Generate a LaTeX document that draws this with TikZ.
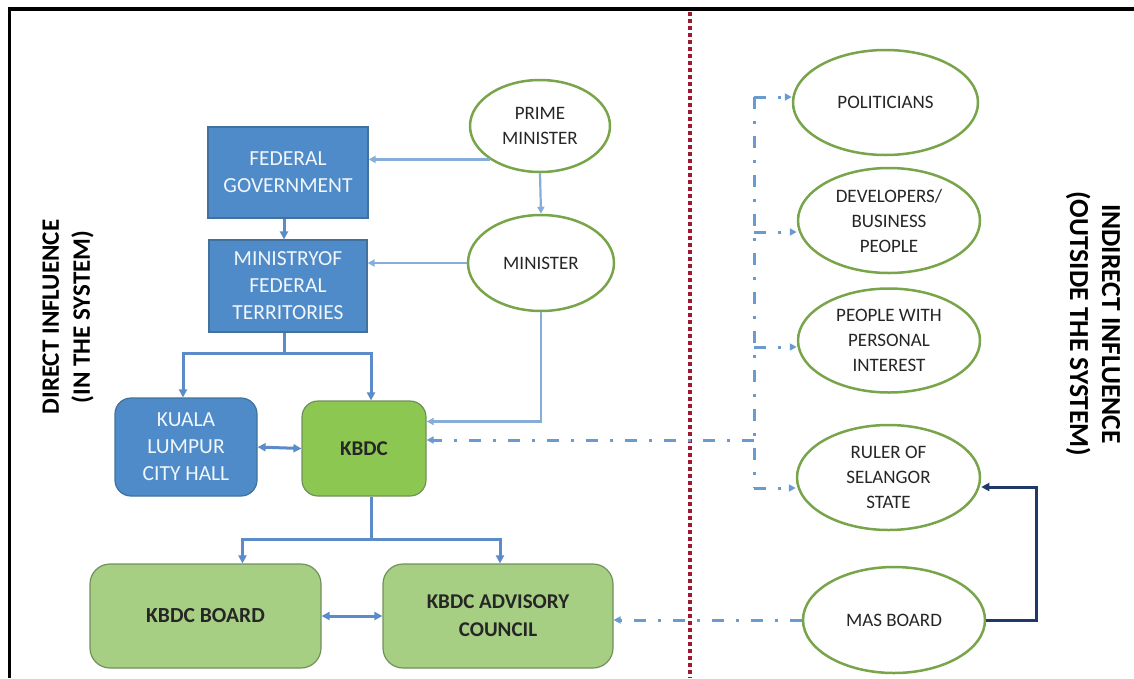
\documentclass[tikz,border=0pt]{standalone}
\usepackage{fontspec}
\setmainfont{Carlito}
\usetikzlibrary{positioning}
\usetikzlibrary{shapes.geometric}
\usetikzlibrary{arrows.meta}
\definecolor{govBlue}{HTML}{4F8BC9}
\definecolor{govEdge}{HTML}{41719C}
\definecolor{kbdcGreen}{HTML}{8CC751}
\definecolor{boardGreen}{HTML}{A6CF84}
\definecolor{greenEdge}{HTML}{71905A}
\definecolor{ringGreen}{HTML}{78A44A}
\definecolor{linkBlue}{HTML}{5B8BC8}
\definecolor{linkLight}{HTML}{86ACDA}
\definecolor{dashBlue}{HTML}{6A9AD0}
\definecolor{masNavy}{HTML}{1F3A68}
\definecolor{dividerRed}{HTML}{A01830}
\tikzset{
  font={\fontsize{21.5}{27}\selectfont}
}
\def\textColor{black!85}
\def\tipSize{8pt}
\tikzstyle{govbox}=[rectangle,draw=govEdge,fill=govBlue,line width=1.2pt,text=white!92!govBlue,align=center,inner sep=0pt]
\tikzstyle{kbdcbox}=[rectangle,rounded corners=16pt,draw=greenEdge,fill=kbdcGreen,line width=1.2pt,text=\textColor,align=center,inner sep=0pt,font={\bfseries\fontsize{21}{27}\selectfont}]
\tikzstyle{boardbox}=[kbdcbox,rounded corners=20pt,fill=boardGreen,font={\bfseries\fontsize{21.5}{28}\selectfont}]
\tikzstyle{person}=[ellipse,draw=ringGreen,fill=white,line width=2.5pt,text=\textColor,align=center,inner sep=0pt,font={\fontsize{19}{25}\selectfont}]
\tikzstyle{connection}=[-{Triangle[length=\tipSize,width=\tipSize]},line width=3pt,draw=linkBlue]
\tikzstyle{connectionThin}=[-{Triangle[length=7pt,width=7pt]},line width=2.2pt,draw=linkLight]
\tikzstyle{influence}=[-{Triangle[length=7pt,width=7pt]},line width=3pt,draw=dashBlue,dash pattern=on 12pt off 12pt on 3pt off 12pt]
\tikzstyle{masLink}=[-{Triangle[length=\tipSize,width=\tipSize]},line width=3pt,draw=masNavy]
\tikzstyle{divider}=[line width=4pt,draw=dividerRed,dash pattern=on 4pt off 3pt]
\tikzstyle{frame}=[line width=3.5pt,draw=black]
\tikzstyle{sidelabel}=[align=center,text=black,font={\bfseries\fontsize{25}{31}\selectfont}]

\begin{document}
\begin{tikzpicture}[x=1pt,y=-1pt]
    \useasboundingbox (0,0) rectangle (1134,678);
    \draw[frame] (9.5,678) -- (9.5,9) -- (1134,9);

    % dividing line between the two sides
    \coordinate (divtop) at (690,12);
    \coordinate (divbot) at (690,678);
    \draw[divider] (divtop) -- (divbot);

    % inside the system
    \node[govbox,minimum width=160pt,minimum height=91pt] (fedgov) at (288,172.5) {FEDERAL\\GOVERNMENT};
    \node[govbox,minimum width=158pt,minimum height=92pt] (ministry) at (288,286) {MINISTRYOF\\FEDERAL\\TERRITORIES};
    \node[govbox,rounded corners=16pt,minimum width=142pt,minimum height=98pt] (cityhall) at (186,447) {KUALA\\LUMPUR\\CITY HALL};
    \node[kbdcbox,minimum width=124pt,minimum height=95pt] (kbdc) at (364,448.5) {KBDC};
    \node[boardbox,minimum width=231pt,minimum height=104pt] (board) at (205.5,616) {KBDC BOARD};
    \node[boardbox,minimum width=230pt,minimum height=104pt,font={\bfseries\fontsize{21}{28}\selectfont}] (advisory) at (498,616) {KBDC ADVISORY\\COUNCIL};
    \node[person,minimum width=140pt,minimum height=92pt] (pm) at (540,126) {PRIME\\MINISTER};
    \node[person,minimum width=146pt,minimum height=96pt] (minister) at (541,263) {MINISTER};

    % outside the system
    \node[person,minimum width=185pt,minimum height=105pt] (politicians) at (885.5,102.5) {POLITICIANS};
    \node[person,minimum width=182pt,minimum height=105pt] (developers) at (889,220.5) {DEVELOPERS/\\BUSINESS\\PEOPLE};
    \node[person,minimum width=182pt,minimum height=104pt] (interest) at (889,340.5) {PEOPLE WITH\\PERSONAL\\INTEREST};
    \node[person,minimum width=183pt,minimum height=105pt] (ruler) at (888.5,477.5) {RULER OF\\SELANGOR\\STATE};
    \node[person,minimum width=182pt,minimum height=106pt] (mas) at (894,620) {MAS BOARD};

    \node[sidelabel,rotate=90] (direct) at (68,317) {DIRECT INFLUENCE\\(IN THE SYSTEM)};
    \node[sidelabel,rotate=-90,font={\bfseries\fontsize{27.5}{32}\selectfont}] (indirect) at (1093,324) {INDIRECT INFLUENCE\\(OUTSIDE THE SYSTEM)};

    % lines of direct influence
    \draw[connection] ([xshift=-4pt]fedgov.south) -- ([xshift=-4pt]ministry.north);
    \draw[connectionThin] (pm.south west) -- (pm.south west -| fedgov.east);
    \draw[connectionThin] (pm.south) -- (minister.north);
    \draw[connectionThin] (minister.west) -- (minister.west -| ministry.east);
    \draw[connectionThin] (minister.south) |- ([yshift=27pt]kbdc.east);

    \coordinate (split1) at ([xshift=-4pt,yshift=-21pt]ministry.south);
    \draw[connection,-] ([xshift=-4pt]ministry.south) -- (split1);
    \draw[connection] (split1) -| ([xshift=-3pt]cityhall.north);
    \draw[connection] (split1) -| ([xshift=7pt]kbdc.north);
    \draw[connection,{Triangle[length=\tipSize,width=\tipSize]}-{Triangle[length=\tipSize,width=\tipSize]}] (cityhall.east) -- (kbdc.west);

    \coordinate (split2) at ([xshift=7pt,yshift=-43pt]kbdc.south);
    \draw[connection,-] ([xshift=7pt]kbdc.south) -- (split2);
    \draw[connection] (split2) -| ([xshift=37pt]board.north);
    \draw[connection] (split2) -| ([xshift=2pt]advisory.north);
    \draw[connection,{Triangle[length=\tipSize,width=\tipSize]}-{Triangle[length=\tipSize,width=\tipSize]}] (board.east) -- (advisory.west);

    % lines of indirect influence
    \foreach \target/\yy in {politicians/97,developers/232,interest/347,ruler/488} {
        \coordinate (br-\target) at (754,\yy);
        \draw[influence] (br-\target) -- (br-\target -| \target.west);
    }
    \draw[influence,-] (br-politicians) -- (br-ruler);
    \coordinate (hub) at (754,440);
    \draw[influence] (hub) -- (hub -| kbdc.east);
    \draw[influence] (mas.west) -- (mas.west -| advisory.east);
    \draw[masLink] (mas.east) -- ++(50,0) |- ([yshift=-9.5pt]ruler.east);
\end{tikzpicture}
\end{document}
